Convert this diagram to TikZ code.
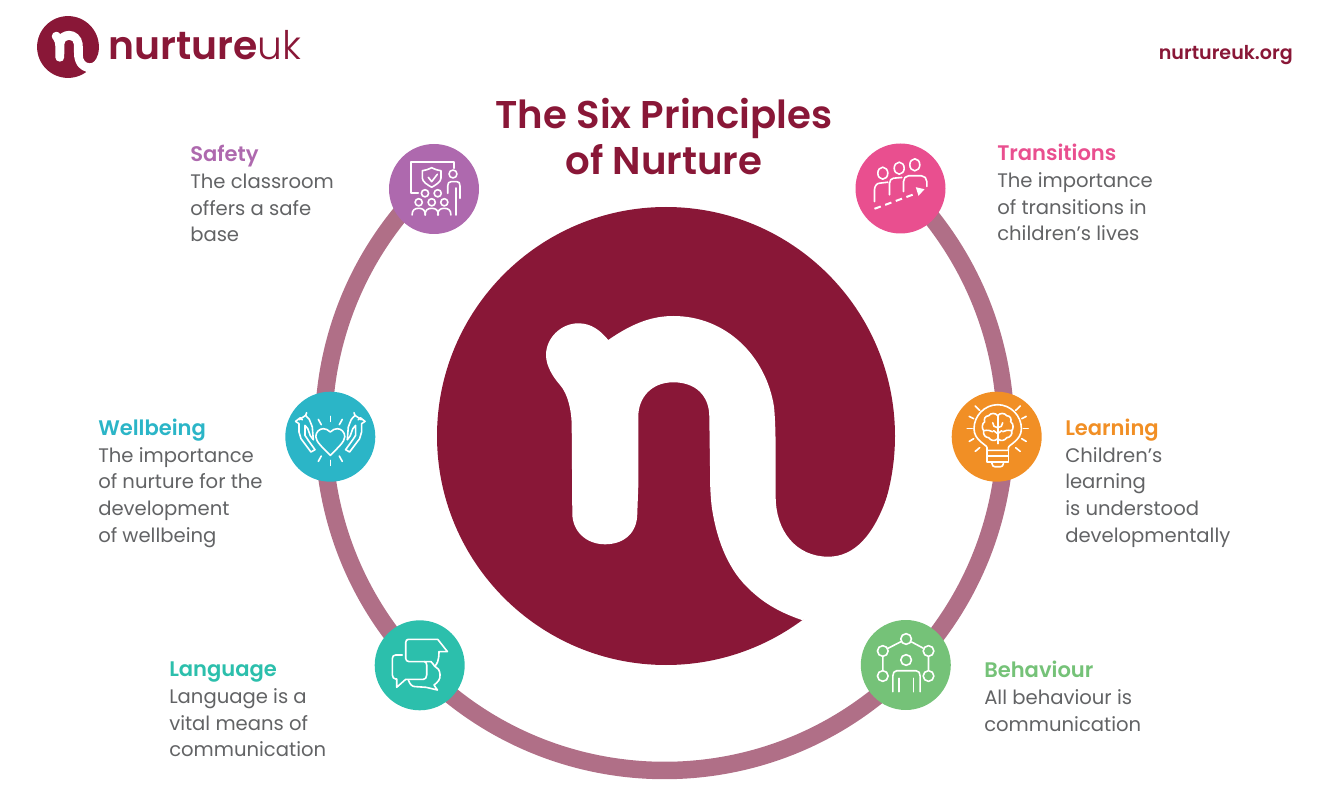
\documentclass[tikz,border=0pt]{standalone}
\usepackage{fontspec}
\setmainfont{Poppins}[BoldFont={* SemiBold}]
\newfontfamily\lightfont{Poppins Light}
\usetikzlibrary{positioning}
\definecolor{maroon}{HTML}{891737}
\definecolor{ringcol}{HTML}{B06F87}
\definecolor{bodygray}{HTML}{626365}
\definecolor{safetycol}{HTML}{AE69AE}
\definecolor{transcol}{HTML}{E94F8F}
\definecolor{wellcol}{HTML}{2BB5C7}
\definecolor{learncol}{HTML}{F18F25}
\definecolor{langcol}{HTML}{2CBFAC}
\definecolor{behavcol}{HTML}{75C278}
\newcommand{\headline}[1]{{\fontsize{15.8}{20}\bfseries #1}}
\tikzset{
  principle/.style={circle, minimum size=67.5pt, inner sep=0pt},
  blurb/.style={anchor=north west, inner sep=0pt, align=left, text=bodygray,
    font=\fontsize{14.7}{20}\selectfont},
  iconline/.style={draw=white, line width=1.2pt, line join=round, line cap=round},
  icondot/.style={circle, draw=white, line width=1.2pt, minimum size=8pt, inner sep=0pt},
  ringline/.style={draw=ringcol, line width=13.1pt},
  pics/nlogo/.style={code={
    \fill [maroon] (0,0) circle [radius=229];
    \fill [white] (-57.7,-96) .. controls (-32,-114) and (-12,-120) .. (7.3,-120)
      .. controls (60,-120) and (100,-80) .. (108,-29.3)
      .. controls (110,-10) and (109.7,20) .. (109.7,60.7)
      .. controls (109.7,95) and (130,120.7) .. (162.3,120.7)
      .. controls (188,120.7) and (208,100) .. (222,58)
      -- (240,50) -- (225,170) -- (135.7,184)
      .. controls (110,175) and (95,165) .. (80.7,150.7)
      .. controls (60,130) and (50,100) .. (45.7,70.7)
      .. controls (44,55) and (44,45) .. (44,30.7)
      -- (43.3,-19.3)
      .. controls (43.3,-40) and (30,-53.7) .. (7.3,-53.7)
      .. controls (-15,-53.7) and (-27.7,-38) .. (-27.7,-19.3)
      -- (-27.7,50) -- (-28.7,77.3)
      .. controls (-28.7,97) and (-42,108.3) .. (-61,108.3)
      .. controls (-80,108.3) and (-93.7,95) .. (-93.7,77.3)
      -- (-94.3,-9.3)
      .. controls (-94.3,-25) and (-98,-42) .. (-106,-51)
      .. controls (-113,-59) and (-120,-70) .. (-120,-81)
      .. controls (-120,-98) and (-105,-112.7) .. (-87.7,-112.7)
      .. controls (-75,-112.7) and (-66,-106) .. (-57.7,-96) -- cycle;
  }},
  pics/safetyicon/.style={code={
    \draw [iconline] (-15.7,4.3) -- (-23,4.3) -- (-23,-26.7) -- (20,-26.7) -- (20,-20.7);
    \draw [iconline] (-2.3,-21.3) .. controls (-6,-19.5) and (-9,-18.5) .. (-11.7,-18.3)
      -- (-11.7,-11) .. controls (-11.7,-7) and (-6,-4) .. (-2.3,-1.7)
      .. controls (1.5,-4) and (7,-7) .. (7,-11) -- (7,-18.3)
      .. controls (4,-18.5) and (1.5,-19.5) .. (-2.3,-21.3) -- cycle;
    \draw [iconline] (-5.7,-11.7) -- (-2.3,-7.3) -- (3.3,-14.7);
    \draw [iconline] (19,-15) circle [radius=4];
    \draw [iconline] (13.7,4.3) -- (13.7,-3) .. controls (13.7,-6) and (15,-7.3) .. (17,-7.3)
      -- (23,-7.3) .. controls (25,-7.3) and (26,-6) .. (26,-3) -- (26,9.3)
      (22,-1) -- (22,26);
    \foreach \x in {-9,3.7} \draw [iconline] (\x,4.3) circle [radius=3.6];
    \foreach \x in {-15.3,-2.3,10.3} {
      \draw [iconline] (\x,13.3) circle [radius=3.6];
      \draw [iconline] (\x-6.6,26) .. controls (\x-6.6,21) and (\x-4,19.3) .. (\x,19.3)
        .. controls (\x+4,19.3) and (\x+6.6,21) .. (\x+6.6,26);
    }
  }},
  pics/transicon/.style={code={
    \draw [iconline] (-17.7,-15.3) circle [x radius=5, y radius=6];
    \draw [iconline] (-1.3,-20.3) circle [x radius=5, y radius=6];
    \draw [iconline] (14.3,-23.7) circle [x radius=5, y radius=6];
    \draw [iconline] (3,3) -- (3,-7) .. controls (3,-10) and (5,-12.7) .. (8,-12.7)
      -- (21,-12.7) .. controls (24,-12.7) and (26.3,-10) .. (26.3,-7) -- (26.3,-2);
    \draw [iconline] (-11,6.3) -- (-11,-5.3) .. controls (-11,-8) and (-9,-10.3) .. (-7,-10.3) -- (1.3,-11);
    \draw [iconline] (-26,13) -- (-26,1.3) .. controls (-26,-2) and (-24,-5.3) .. (-21,-5.3) -- (-12.7,-6.3);
    \draw [iconline, line width=1.5pt, line cap=butt, dash pattern=on 5pt off 3.5pt] (-26,20.3) -- (16.3,4.7);
    \fill [white] (15.3,-1.3) -- (24,0.7) -- (18,7.3) -- cycle;
  }},
  pics/wellicon/.style={code={
    \draw [iconline] (0,-4.7) .. controls (-2,-7) and (-5,-8) .. (-7,-8)
      .. controls (-11,-8) and (-14.5,-4.5) .. (-14.5,0)
      .. controls (-14.5,5) and (-7,11.5) .. (0,18.7)
      .. controls (7,11.5) and (14.5,5) .. (14.5,0)
      .. controls (14.5,-4.5) and (11,-8) .. (7,-8)
      .. controls (5,-8) and (2,-7) .. (0,-4.7) -- cycle;
    \foreach \s in {1,-1} {
      \begin{scope}[xscale=\s]
        \draw [iconline] (-34.7,-15.3) -- (-31.3,-13) -- (-31.3,-4.7) -- (-29.3,2) -- (-19.3,15.3)
          -- (-15.3,13) -- (-22,3.7) -- (-25.3,-1.3) -- (-25.3,-11.3) -- (-22.5,-8)
          -- (-20,-1) -- (-17,3);
        \draw [iconline] (-34.7,-15.3) -- (-30,-19) -- (-28,-17);
        \draw [iconline] (-23.7,-24) -- (-24.7,-21.3) -- (-21,-17.3) -- (-18,-9.7) -- (-17,3);
        \draw [iconline] (-24.7,-21.3) -- (-31,-17);
        \draw [iconline] (12,-17.3) -- (9,-12);
        \draw [iconline] (9,19.3) -- (12,24.7);
      \end{scope}
    }
    \draw [iconline] (0,-20.3) -- (0,-15.3);
    \draw [iconline] (0,23.7) -- (0,28.7);
  }},
  pics/learnicon/.style={code={
    \draw [iconline] (-9.7,13.7) -- (-9.7,11) .. controls (-9.7,8) and (-22.7,4) .. (-22.7,-8)
      .. controls (-22.7,-21) and (-12,-32) .. (1,-32)
      .. controls (14,-32) and (24.7,-21) .. (24.7,-8)
      .. controls (24.7,4) and (11.7,8) .. (11.7,11) -- (11.7,13.7) -- cycle;
    \draw [iconline] (-9.7,13.7) -- (-9.7,25.3) -- (11.7,25.3) -- (11.7,13.7);
    \draw [iconline] (-9.7,19.3) -- (11.7,19.3);
    \draw [iconline] (-4.7,25.3) -- (-4.7,27) .. controls (-4.7,29) and (-3,30) .. (-2,30)
      -- (4,30) .. controls (5,30) and (6.7,29) .. (6.7,27) -- (6.7,25.3);
    \begin{scope}[shift={(1,0)}]
      \foreach \s in {1,-1} {
        \begin{scope}[xscale=\s]
          \draw [iconline] (30.5,-8) -- (25.5,-8);
          \draw [iconline] (22.5,-30.7) -- (18,-26.3);
          \draw [iconline] (28.5,-20.3) -- (24,-18);
          \draw [iconline] (28.5,4.7) -- (24,2);
          \draw [iconline] (22.5,14.7) -- (18,11);
          \draw [iconline] (0,-21) .. controls (2,-24) and (7,-24) .. (9,-21)
            .. controls (13,-21) and (14,-17) .. (13,-15)
            .. controls (16,-13) and (16,-8) .. (14,-6)
            .. controls (15,-2) and (12,1) .. (9,1)
            .. controls (7,4) and (3,5) .. (0,2);
          \draw [iconline] (0,-9) .. controls (3,-9) and (5,-11) .. (5,-14);
          \draw [iconline] (5,-5) .. controls (7,-6) and (10,-7) .. (14,-6);
          \draw [iconline] (0,-3) -- (4,-6);
        \end{scope}
      }
      \draw [iconline] (0,-21) -- (0,7);
    \end{scope}
  }},
  pics/langicon/.style={code={
    \draw [iconline] (19.3,-13.7) -- (27.7,-13.7) -- (18,-26) -- (-11.3,-26)
      .. controls (-13,-26) and (-14,-24.5) .. (-14,-22.7) -- (-14,-7)
      .. controls (-14,-5) and (-12.5,-3.7) .. (-10.7,-3.7) -- (4.7,-3.7)
      .. controls (6,-3.7) and (7,-2) .. (7,-0.3) -- (7,9.7)
      .. controls (7,12.5) and (5.5,14) .. (3.7,14) -- (-14,14) -- (-23,22) -- (-23,13.7) -- (-24,13.7)
      .. controls (-26,13.7) and (-27.3,12) .. (-27.3,9.7) -- (-27.3,-7)
      .. controls (-27.3,-9) and (-26,-10.3) .. (-24,-10.3) -- (-17.3,-10.3);
    \draw [iconline] (-11.3,14.7) .. controls (-10,18.5) and (-8,21.3) .. (-4.7,21.3)
      -- (6.3,22) -- (17.7,24.7) -- (14.3,19.7)
      .. controls (18,17) and (21,14) .. (20.3,9)
      .. controls (20,5) and (18,2) .. (15,1)
      .. controls (17,-1) and (19.3,-4) .. (19.3,-13.7);
    \draw [iconline] (4.7,-3.7) -- (11.3,-3.7) .. controls (13,-2) and (14,-0.5) .. (15,1);
  }},
  pics/behavicon/.style={code={
    \node [icondot] (bt) at (0.3,-26) {};
    \node [icondot] (blu) at (-23,-14) {};
    \node [icondot] (bru) at (22.7,-14) {};
    \node [icondot] (bll) at (-23,11) {};
    \node [icondot] (brl) at (22.7,11) {};
    \node [icondot] (bhead) at (0.3,-5) {};
    \draw [iconline] (bll) -- (blu) -- (bt) -- (bru) -- (brl);
    \draw [iconline] (-13,26.7) -- (-13,11) .. controls (-13,8) and (-11.5,5.7) .. (-9,5.7)
      -- (10.3,5.7) .. controls (13,5.7) and (14.3,8) .. (14.3,11) -- (14.3,26.7);
    \draw [iconline] (-6.7,13.3) -- (-6.7,26.7);
    \draw [iconline] (7.7,13.3) -- (7.7,26.7);
  }},
}
\begin{document}
\begin{tikzpicture}[x=0.75pt, y=-0.75pt]
  \useasboundingbox (0,0) rectangle (1329,802);

  \coordinate (safetypos) at (434,189);
  \coordinate (transpos) at (900.5,188.5);
  \coordinate (ringcentre) at (664.5,429.5);

  \draw [ringline] ([shift={(226.7:341)}]ringcentre) arc [start angle=226.7, end angle=-46.4, radius=341];

  \pic at (666,436) {nlogo};
  \pic [scale=0.135] at (68,47) {nlogo};

  \node [anchor=base west, inner sep=0pt, text=maroon, font=\fontsize{29.5}{30}\selectfont] (brand) at (108,60)
    {\textbf{nurture}{\lightfont uk}};
  \node [anchor=base east, inner sep=0pt, text=maroon, font=\fontsize{14.3}{16}\bfseries] (website) at (1293,59.5)
    {nurtureuk.org};
  \node [align=center, text=maroon, inner sep=0pt, font=\fontsize{29}{34.5}\bfseries] (title) at (664,137)
    {The Six Principles\\of Nurture};

  \node [principle, fill=safetycol] (safety) at (safetypos) {};
  \node [principle, fill=transcol] (transitions) at (transpos) {};
  \node [principle, fill=wellcol] (wellbeing) at (330.3,436.7) {};
  \node [principle, fill=learncol] (learning) at (996.7,436.7) {};
  \node [principle, fill=langcol] (language) at (419.7,665.3) {};
  \node [principle, fill=behavcol] (behaviour) at (905.8,665) {};

  \pic at (safety) {safetyicon};
  \pic at (transitions) {transicon};
  \pic at (wellbeing) {wellicon};
  \pic at (learning) {learnicon};
  \pic at (language) {langicon};
  \pic at (behaviour) {behavicon};

  \node [blurb] (safetytext) at (190,145) {\textcolor{safetycol}{\headline{Safety}}\\The classroom\\offers a safe\\base};
  \node [blurb] (transtext) at (997,144) {\textcolor{transcol}{\headline{Transitions}}\\The importance\\of transitions in\\children’s lives};
  \node [blurb] (welltext) at (98,418.7) {\textcolor{wellcol}{\headline{Wellbeing}}\\The importance\\of nurture for the\\development\\of wellbeing};
  \node [blurb] (learntext) at (1065,418.7) {\textcolor{learncol}{\headline{Learning}}\\Children’s\\learning\\is understood\\developmentally};
  \node [blurb] (langtext) at (169,662) {\textcolor{langcol}{\headline{Language}}\\Language is a\\vital means of\\communication};
  \node [blurb] (behavtext) at (984,661) {\textcolor{behavcol}{\headline{Behaviour}}\\All behaviour is\\communication};
\end{tikzpicture}
\end{document}
